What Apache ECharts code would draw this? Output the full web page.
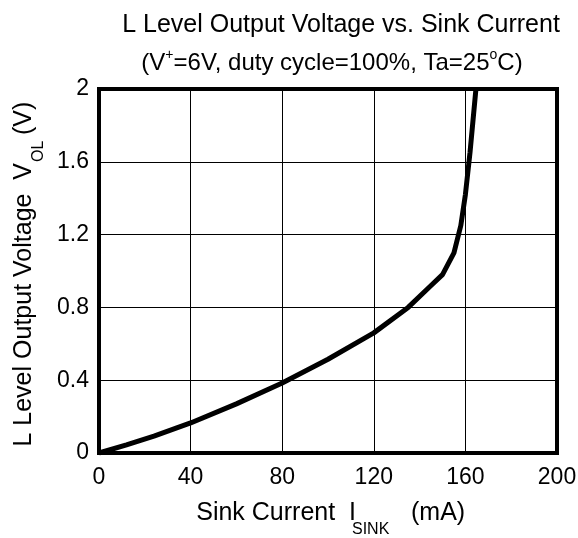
<!DOCTYPE html>
<html lang="en">
<head>
    <meta charset="UTF-8">
    <title>L Level Output Voltage vs. Sink Current</title>
    <script src="https://cdn.jsdelivr.net/npm/echarts@6/dist/echarts.min.js"></script>
    <style>
        body { margin: 0; background: #fff; }
        #chart { width: 578px; height: 538px; }
    </style>
</head>
<body>
    <div id="chart"></div>
    <script>
        // sink current (mA) and output voltage (V)
        const sinkCurrent = [0, 12, 24, 40, 60, 80, 100, 120, 135, 145, 150, 155, 158, 160, 162, 164.6];
        const outVoltage  = [0, 0.045, 0.093, 0.165, 0.27, 0.385, 0.515, 0.66, 0.80, 0.92, 0.98, 1.10, 1.25, 1.42, 1.65, 2.0];

        const font = 'Liberation Sans, Arial, sans-serif';
        const big = '25px ' + font;
        const small = '16px ' + font;

        const chart = echarts.init(document.getElementById('chart'));

        const titleRich = {
            m: { fontFamily: font, fontSize: 24, lineHeight: 30, color: '#000' },
            sup: { fontFamily: font, fontSize: 14, lineHeight: 14, verticalAlign: 'top', color: '#000' }
        };

        // plain text pieces for axis titles (subscripts placed separately)
        function txt(x, y, text, f, align, rot) {
            return {
                type: 'text', x: x, y: y, rotation: rot || 0, silent: true,
                style: { text: text, font: f, fill: '#000', align: align, verticalAlign: 'middle',
                         textAlign: align, textVerticalAlign: 'middle' }
            };
        }
        const R = Math.PI / 2;

        const option = {
            animation: false,
            title: [{
                text: 'L Level Output Voltage vs. Sink Current',
                left: 336, top: 8, textAlign: 'center',
                textStyle: { fontFamily: font, fontSize: 25, fontWeight: 'normal', color: '#000' }
            }, {
                text: '{m|(V}{sup|+}{m|=6V, duty cycle=100%, Ta=25}{sup|o}{m|C)}',
                left: 327, top: 43, textAlign: 'center',
                textStyle: { fontFamily: font, fontSize: 24, fontWeight: 'normal', color: '#000', rich: titleRich }
            }],
            graphic: [
                txt(356, 513, 'Sink Current  I', big, 'right'),
                txt(352, 530, 'SINK', small, 'left'),
                txt(411, 513, '(mA)', big, 'left'),
                txt(24, 163, 'L Level Output Voltage  V', big, 'right', R),
                txt(39, 162, 'OL', small, 'left', R),
                txt(24, 135, '(V)', big, 'left', R)
            ],
            grid: {
                left: 99, right: 21, top: 89, bottom: 85,
                outerBoundsMode: 'none',
                show: true, borderColor: '#000', borderWidth: 4
            },
            xAxis: {
                type: 'value', min: 0, max: 200, interval: 40,
                axisLine: { show: false }, axisTick: { show: false },
                axisLabel: { fontFamily: font, fontSize: 23, color: '#000', margin: 13 },
                splitLine: { lineStyle: { color: '#000', width: 1 } }
            },
            yAxis: {
                type: 'value', min: 0, max: 2, interval: 0.4,
                axisLine: { show: false }, axisTick: { show: false },
                axisLabel: {
                    fontFamily: font, fontSize: 23, color: '#000', margin: 10,
                    formatter: v => String(+v.toFixed(1))
                },
                splitLine: { lineStyle: { color: '#000', width: 1 } }
            },
            series: [{
                type: 'line',
                data: sinkCurrent.map((x, i) => [x, outVoltage[i]]),
                showSymbol: false,
                lineStyle: { color: '#000', width: 5 }
            }]
        };
        chart.setOption(option);
    </script>
</body>
</html>
